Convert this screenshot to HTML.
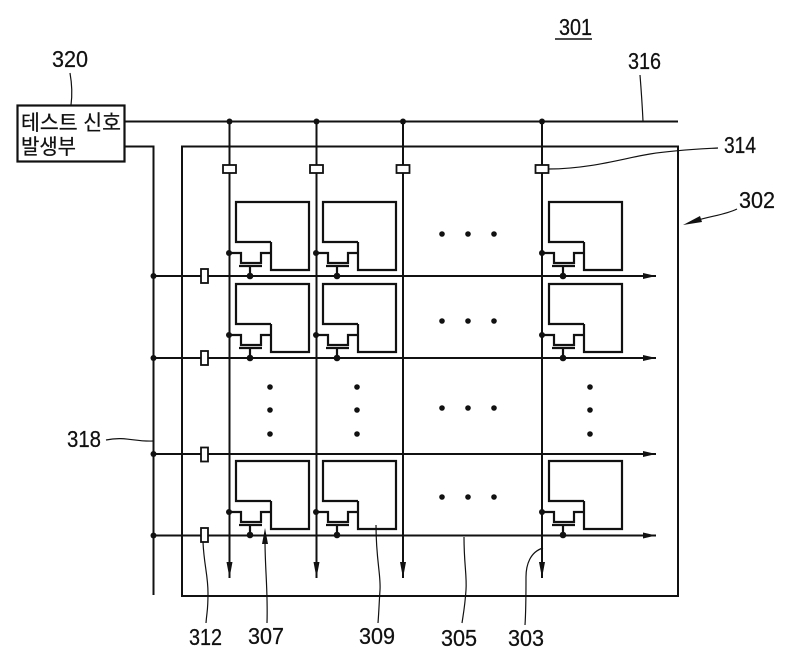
<!DOCTYPE html>
<html><head><meta charset="utf-8"><style>
html,body{margin:0;padding:0;background:#fff;width:800px;height:664px;overflow:hidden}
svg{display:block}
text{font-family:"Liberation Sans","Noto Sans CJK KR",sans-serif;fill:#111;stroke:#111;stroke-width:.25}
</style></head><body>
<svg width="800" height="664" viewBox="0 0 800 664" xmlns="http://www.w3.org/2000/svg">
<defs>
<g id="cell" fill="none" stroke="#111">
<path stroke-width="2.200" d="M42 -34H7V-74H80V-6H42V-34"/>
<path stroke-width="2.200" d="M0 -23H12V-13H32V-23H42"/>
<path stroke-width="2.200" d="M10 -10H33M21 -10V0"/>
<circle cx="0" cy="-23" r="3" fill="#111" stroke="none"/>
<circle cx="21" cy="0" r="3.300" fill="#111" stroke="none"/>
</g>
<path id="ah" d="M0 0L-13 -3V3Z" fill="#111"/>
<path id="av" d="M0 0L-3 -16H3Z" fill="#111"/>
<rect id="sq" x="-3.500" y="-7" width="7" height="14" fill="#fff" stroke="#111" stroke-width="1.800"/>
<rect id="sc" x="-6.500" y="-4" width="13" height="8" fill="#fff" stroke="#111" stroke-width="1.800"/>
</defs>

<rect x="182" y="146.500" width="496" height="449.500" fill="none" stroke="#111" stroke-width="2"/>

<g stroke="#111" fill="none" stroke-width="2">
<path d="M125 121.500H678"/>
<path d="M125 146.500H153.500V595"/>
<path d="M153 276H656M153 358H656M153 454H656M153 535.500H656"/>
<path d="M229.500 121V578M316.500 121V578M403 121V578M542 121V578"/>
</g>

<use href="#ah" x="656" y="276"/><use href="#ah" x="656" y="358"/><use href="#ah" x="656" y="454"/><use href="#ah" x="656" y="535.500"/>
<use href="#av" x="229.500" y="578"/><use href="#av" x="316.500" y="578"/><use href="#av" x="403" y="578"/><use href="#av" x="542" y="578"/>

<use href="#sc" x="229.500" y="169"/><use href="#sc" x="316.500" y="169"/><use href="#sc" x="403" y="169"/><use href="#sc" x="542" y="169"/>
<use href="#sq" x="204.500" y="276"/><use href="#sq" x="204.500" y="358"/><use href="#sq" x="204.500" y="454.500"/><use href="#sq" x="204.500" y="535"/>

<use href="#cell" x="229" y="276"/><use href="#cell" x="316" y="276"/><use href="#cell" x="542" y="276"/>
<use href="#cell" x="229" y="358"/><use href="#cell" x="316" y="358"/><use href="#cell" x="542" y="358"/>
<use href="#cell" x="229" y="535"/><use href="#cell" x="316" y="535"/><use href="#cell" x="542" y="535"/>

<g fill="#111">
<circle cx="229.500" cy="121.500" r="3"/><circle cx="316.500" cy="121.500" r="3"/><circle cx="403" cy="121.500" r="3"/><circle cx="542" cy="121.500" r="3"/>
<circle cx="153.500" cy="276" r="3"/><circle cx="153.500" cy="358" r="3"/><circle cx="153.500" cy="454" r="3"/><circle cx="153.500" cy="535.500" r="3"/>
<circle cx="442" cy="234" r="2.800"/><circle cx="468" cy="234" r="2.800"/><circle cx="494" cy="234" r="2.800"/>
<circle cx="442" cy="321" r="2.800"/><circle cx="468" cy="321" r="2.800"/><circle cx="494" cy="321" r="2.800"/>
<circle cx="442" cy="408" r="2.800"/><circle cx="468" cy="408" r="2.800"/><circle cx="494" cy="408" r="2.800"/>
<circle cx="442" cy="497" r="2.800"/><circle cx="468" cy="497" r="2.800"/><circle cx="494" cy="497" r="2.800"/>
<circle cx="270" cy="387" r="2.800"/><circle cx="270" cy="410" r="2.800"/><circle cx="270" cy="434" r="2.800"/>
<circle cx="357" cy="387" r="2.800"/><circle cx="357" cy="410" r="2.800"/><circle cx="357" cy="434" r="2.800"/>
<circle cx="590" cy="387" r="2.800"/><circle cx="590" cy="410" r="2.800"/><circle cx="590" cy="434" r="2.800"/>
</g>

<rect x="17.500" y="105.500" width="107" height="56" fill="#fff" stroke="#111" stroke-width="2.200"/>
<text x="21" y="130" font-size="21" textLength="100" lengthAdjust="spacingAndGlyphs">테스트 신호</text>
<text x="21" y="154" font-size="21" textLength="55" lengthAdjust="spacingAndGlyphs">발생부</text>

<g fill="none" stroke="#111" stroke-width="1.200">
<path d="M70 73Q73 90 71 105"/>
<path d="M640 75Q642 100 643 121"/>
<path d="M549 169C590 169 625 158 650 154S700 149 718 148"/>
<path d="M737 209C725 215 710 216 695 221"/>
<path d="M106 440C125 436 135 442 153 441"/>
<path d="M203 542C204 565 208 575 208 593S207 610 206 623"/>
<path d="M265 540C265 570 268 590 267 623"/>
<path d="M376 525C376 560 381 575 380 590S379 610 378 623"/>
<path d="M464 537C464 565 467 575 466 590S464 610 462 623"/>
<path d="M543 548C530 552 526 565 526 577S526 610 525 625"/>
</g>
<path d="M683 225L700 216L702 222Z" fill="#111"/>
<path d="M265 528L262 544H268Z" fill="#111"/>

<g font-size="23" lengthAdjust="spacingAndGlyphs">
<text x="559" y="35" textLength="33" lengthAdjust="spacingAndGlyphs">301</text>
<path d="M555 39H592" stroke="#111" stroke-width="1.500"/>
<text x="52" y="67" textLength="36" lengthAdjust="spacingAndGlyphs">320</text>
<text x="628" y="69" textLength="33" lengthAdjust="spacingAndGlyphs">316</text>
<text x="724" y="153" textLength="32" lengthAdjust="spacingAndGlyphs">314</text>
<text x="739" y="208" textLength="36" lengthAdjust="spacingAndGlyphs">302</text>
<text x="67" y="447" textLength="34" lengthAdjust="spacingAndGlyphs">318</text>
<text x="189" y="645" textLength="33" lengthAdjust="spacingAndGlyphs">312</text>
<text x="248" y="644" textLength="36" lengthAdjust="spacingAndGlyphs">307</text>
<text x="359" y="644" textLength="36" lengthAdjust="spacingAndGlyphs">309</text>
<text x="441" y="646" textLength="36" lengthAdjust="spacingAndGlyphs">305</text>
<text x="508" y="646" textLength="36" lengthAdjust="spacingAndGlyphs">303</text>
</g>
</svg>
</body></html>
